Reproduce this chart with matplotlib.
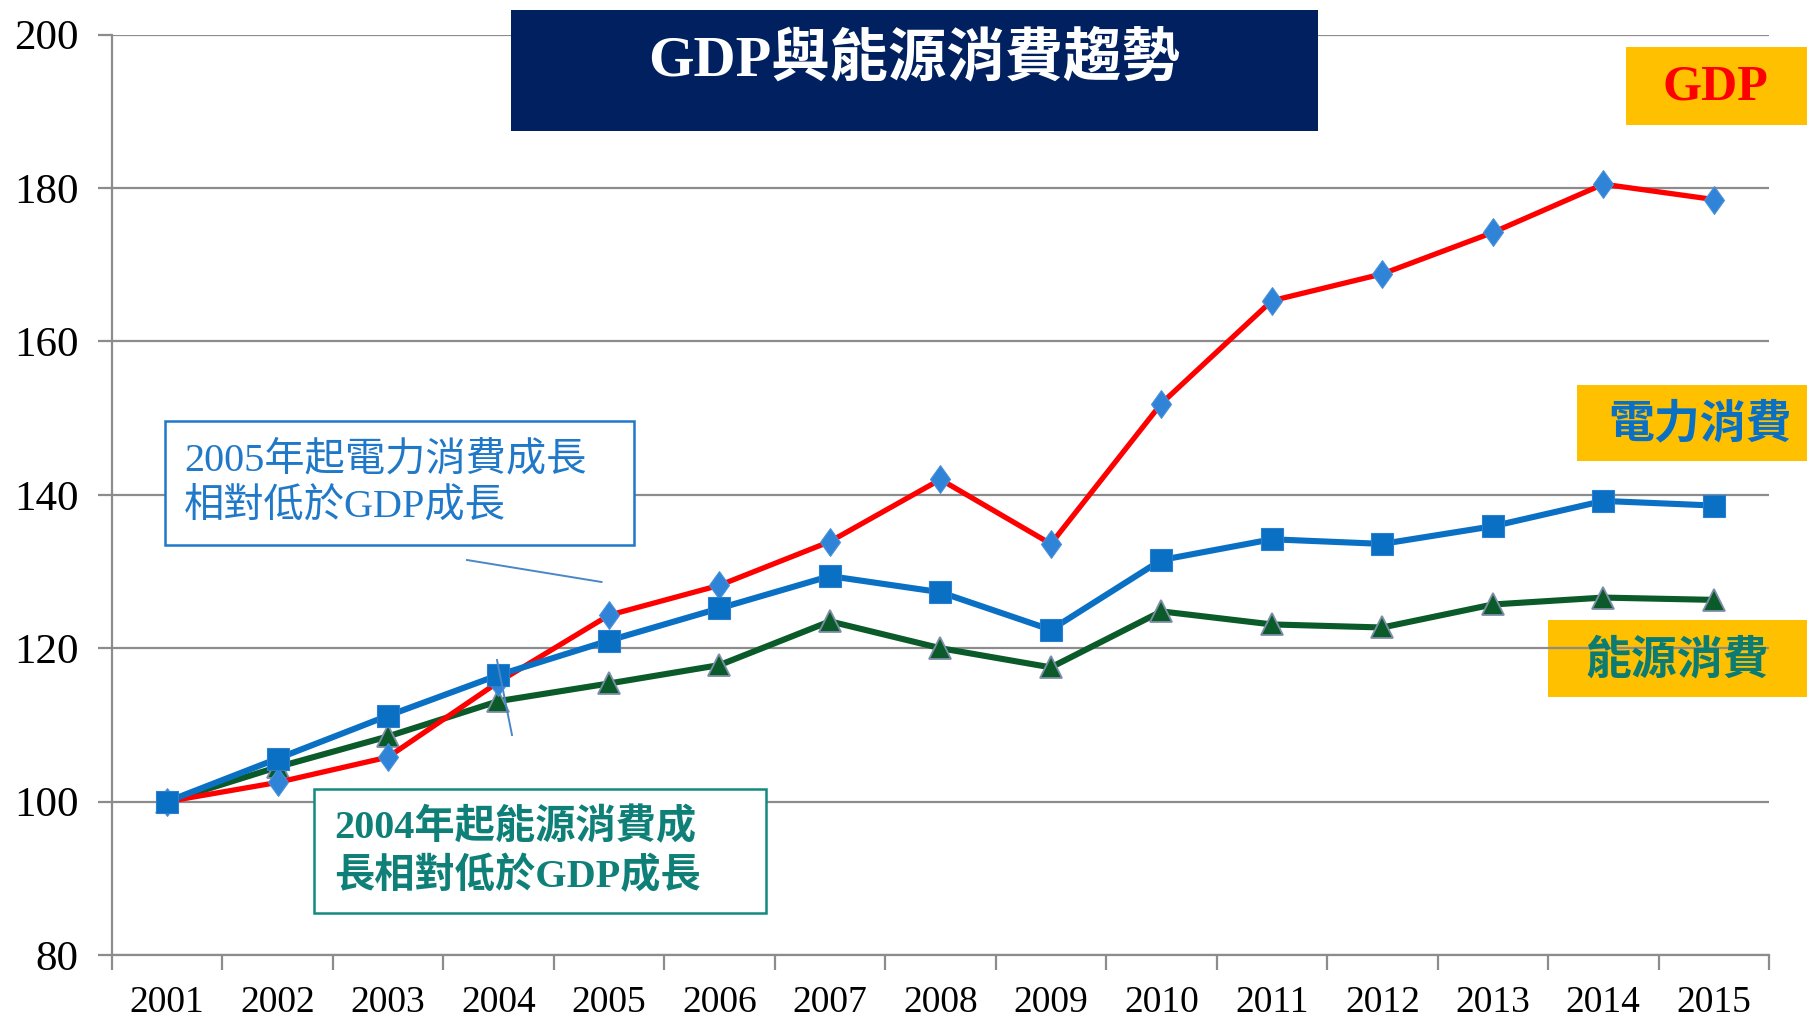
import matplotlib
matplotlib.use('Agg')
import matplotlib.pyplot as plt
from matplotlib.patches import Rectangle
from matplotlib.lines import Line2D

years = ['2001', '2002', '2003', '2004', '2005', '2006', '2007', '2008',
         '2009', '2010', '2011', '2012', '2013', '2014', '2015']
gdp = [100, 102.5, 105.8, 115.6, 124.3, 128.2, 133.9, 142.0, 133.6, 151.9,
       165.3, 168.8, 174.2, 180.5, 178.5]
electricity = [100, 105.6, 111.2, 116.5, 121.0, 125.2, 129.4, 127.3, 122.4,
               131.5, 134.2, 133.6, 135.9, 139.2, 138.6]
energy = [100, 104.5, 108.5, 113.1, 115.4, 117.8, 123.5, 120.0, 117.5, 124.8,
          123.1, 122.7, 125.7, 126.6, 126.3]
y_ticks = [80, 100, 120, 140, 160, 180, 200]

title = 'GDP與能源消費趨勢'
label_gdp = 'GDP'
label_elec = '電力消費'
label_energy = '能源消費'
note_elec = '2005年起電力消費成長\n相對低於GDP成長'
note_energy = '2004年起能源消費成\n長相對低於GDP成長'

plt.rcParams['font.family'] = ['Liberation Serif', 'Noto Sans CJK TC']

W, H = 1807, 1024
fig = plt.figure(figsize=(W / 100, H / 100), dpi=100)


def fx(px):
    return px / W


def fy(py):
    return 1 - py / H


ax = fig.add_axes([fx(111.8), fy(955), fx(1769) - fx(111.8), fy(34.6) - fy(955)])
ax.set_axisbelow(True)
x = list(range(len(years)))

grey = '#8c8c8c'
ax.set_ylim(80, 200)
ax.set_xlim(-0.5, len(years) - 0.5)
ax.set_yticks(y_ticks)
ax.set_yticklabels([str(v) for v in y_ticks], fontsize=31)
ax.yaxis.grid(True, color=grey, linewidth=1.6)
ax.tick_params(axis='y', length=10, width=1.6, color=grey, pad=14, direction='out')

ax.set_xticks([i - 0.5 for i in range(len(years) + 1)])
ax.set_xticklabels([])
ax.set_xticks(x, minor=True)
ax.set_xticklabels(years, minor=True, fontsize=27)
ax.tick_params(axis='x', which='major', length=11, width=1.6, color=grey, direction='out')
ax.tick_params(axis='x', which='minor', length=0, pad=22)

for s in ['top', 'right']:
    ax.spines[s].set_visible(False)
for s in ['left', 'bottom']:
    ax.spines[s].set_color(grey)
    ax.spines[s].set_linewidth(1.6)

tall_diamond = [(0, 1), (0.72, 0), (0, -1), (-0.72, 0), (0, 1)]

ax.plot(x, energy, color='#0b5a2a', linewidth=4.4, marker='^', markersize=16,
        markerfacecolor='#0b5a2a', markeredgecolor='#7f8ea8', markeredgewidth=1.3,
        zorder=3)
ax.plot(x, gdp, color='#ff0000', linewidth=3.8, marker=tall_diamond, markersize=20,
        markerfacecolor='#2f84d8', markeredgecolor='#4a90d9', markeredgewidth=0.8,
        zorder=4)
ax.plot(x, electricity, color='#0a70c4', linewidth=4.4, marker='s', markersize=16,
        markerfacecolor='#0a70c4', markeredgecolor='#2a7fd0', markeredgewidth=0.8,
        zorder=5)

# energy label box sits under the gridlines
ax.add_patch(Rectangle((fx(1548), fy(697)), fx(1807) - fx(1548), fy(620) - fy(697),
                       transform=fig.transFigure, facecolor='#ffc000',
                       edgecolor='none', zorder=0.2, clip_on=False))
ax.text(fx(1677), fy(662), label_energy, transform=fig.transFigure, fontsize=33,
        fontweight='bold', color='#0c7b72', ha='center', va='center', zorder=6,
        clip_on=False)

# title box
fig.add_artist(Rectangle((fx(510.5), fy(131.4)), fx(1318) - fx(510.5), fy(10.4) - fy(131.4),
                         transform=fig.transFigure, facecolor='#002060',
                         edgecolor='none', zorder=5))
fig.text(fx(914), fy(60), title, fontsize=42, fontweight='bold', color='white',
         ha='center', va='center', zorder=6)

# GDP box
fig.add_artist(Rectangle((fx(1626), fy(124.5)), fx(1807) - fx(1626), fy(47) - fy(124.5),
                         transform=fig.transFigure, facecolor='#ffc000',
                         edgecolor='none', zorder=5))
fig.text(fx(1715), fy(87), label_gdp, fontsize=36, fontweight='bold', color='#ff0000',
         ha='center', va='center', zorder=6)

# electricity box
fig.add_artist(Rectangle((fx(1576.5), fy(461)), fx(1807) - fx(1576.5), fy(385) - fy(461),
                         transform=fig.transFigure, facecolor='#ffc000',
                         edgecolor='none', zorder=5))
fig.text(fx(1700), fy(425), label_elec, fontsize=33, fontweight='bold', color='#0a70c4',
         ha='center', va='center', zorder=6)

# annotation 1
fig.add_artist(Rectangle((fx(165), fy(545)), fx(634) - fx(165), fy(421) - fy(545),
                         transform=fig.transFigure, facecolor='white',
                         edgecolor='#1f78c8', linewidth=1.8, zorder=5))
fig.text(fx(184), fy(484), note_elec, fontsize=29, color='#1f78c8',
         ha='left', va='center', linespacing=1.3, zorder=6)
fig.add_artist(Line2D([fx(467), fx(601.5)], [fy(560), fy(582)],
                      transform=fig.transFigure, color='#4a86c8', linewidth=1.4, zorder=6))

# annotation 2
fig.add_artist(Rectangle((fx(313.5), fy(913)), fx(766) - fx(313.5), fy(789) - fy(913),
                         transform=fig.transFigure, facecolor='white',
                         edgecolor='#138a80', linewidth=1.8, zorder=5))
fig.text(fx(334), fy(852), note_energy, fontsize=29, fontweight='bold', color='#0f8078',
         ha='left', va='center', linespacing=1.3, zorder=6)
fig.add_artist(Line2D([fx(497), fx(512)], [fy(660), fy(735)],
                      transform=fig.transFigure, color='#4a86c8', linewidth=1.4, zorder=6))

fig.savefig('out.png', dpi=100)
